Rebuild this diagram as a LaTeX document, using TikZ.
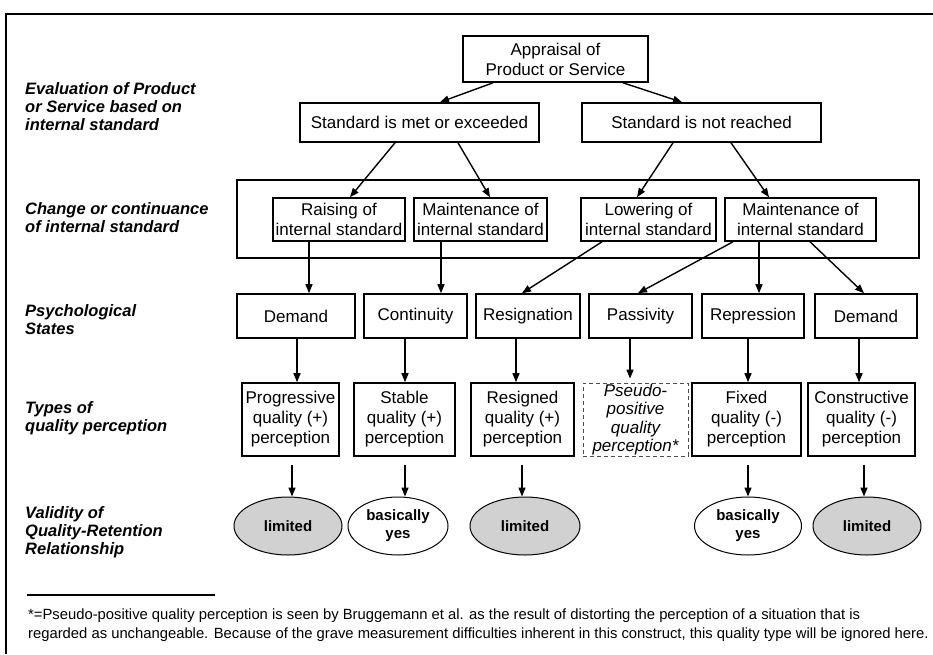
\documentclass[tikz,border=0pt]{standalone}
\usepackage{fontspec}
\setmainfont{Liberation Sans}
\usetikzlibrary{arrows.meta,shapes.geometric}
\newcommand\boxfont{\fontsize{17}{20}\selectfont}
\newcommand\lblfont{\bfseries\itshape\fontsize{16.5}{18}\selectfont}
\newcommand\ovalfont{\bfseries\fontsize{15}{18}\selectfont}
\newcommand\notefont{\fontsize{14.8}{19}\selectfont}
\tikzset{
  box/.style={draw, line width=1.6pt, inner sep=0pt, align=center, font=\boxfont},
  lbl/.style={anchor=west, align=left, inner sep=0pt, font=\lblfont},
  arr/.style={line width=1.4pt, -{Triangle[length=9pt,width=7pt]}},
  oval/.style={ellipse, draw, line width=1pt, inner sep=0pt, align=center, font=\ovalfont,
    minimum height=58pt},
  shaded/.style={oval, fill=black!18},
  plain/.style={oval, fill=white},
}
\begin{document}
\begin{tikzpicture}[x=1pt,y=-1pt]
\useasboundingbox (0,0) rectangle (933,654);
\fill[white] (0,0) rectangle (933,654);
% outer frame (top and left rules)
\draw[line width=2pt] (933,14) -- (6,14) -- (6,654);

% row labels
\node[lbl] (l1) at (25,107) {Evaluation of Product\\or Service based on\\internal standard};
\node[lbl] (l2) at (25,217.5) {Change or continuance\\of internal standard};
\node[lbl] (l3) at (25,320) {Psychological\\States};
\node[lbl] (l4) at (25,418) {Types of\\quality perception};
\node[lbl] (l5) at (25,532) {Validity of\\Quality-Retention\\Relationship};

% appraisal and its outcomes
\node[box, minimum width=185pt, minimum height=46pt] (app) at (555.5,59) {Appraisal of\\Product or Service};
\node[box, minimum width=239pt, minimum height=39pt] (met) at (419.5,122.5) {Standard is met or exceeded};
\node[box, minimum width=239pt, minimum height=39pt] (notr) at (701.5,122.5) {Standard is not reached};

% internal standard group
\node[draw, line width=1.6pt, inner sep=0pt, minimum width=682pt, minimum height=78pt] (grp) at (578,219) {};
\node[box, minimum width=132pt, minimum height=43pt] (rais) at (339,219.5) {Raising of\\internal standard};
\node[box, minimum width=133pt, minimum height=43pt] (mnt1) at (480.5,219.5) {Maintenance of\\internal standard};
\node[box, minimum width=135pt, minimum height=43pt] (lowr) at (648.5,219.5) {Lowering of\\internal standard};
\node[box, minimum width=151pt, minimum height=43pt] (mnt2) at (800.5,219.5) {Maintenance of\\internal standard};

% psychological states
\node[box, minimum width=118pt, minimum height=44pt] (s1) at (296,316) {Demand};
\node[box, minimum width=103pt, minimum height=44pt] (s2) at (415.5,316) {Continuity};
\node[box, minimum width=104pt, minimum height=44pt] (s3) at (528,316) {Resignation};
\node[box, minimum width=103pt, minimum height=44pt] (s4) at (640.5,316) {Passivity};
\node[box, minimum width=102pt, minimum height=44pt] (s5) at (753,316) {Repression};
\node[box, minimum width=102pt, minimum height=44pt] (s6) at (866,316) {Demand};

% types of quality perception
\node[box, minimum width=97pt, minimum height=73pt] (t1) at (290.5,419.5) {Progressive\\quality (+)\\perception};
\node[box, minimum width=101pt, minimum height=73pt] (t2) at (404.5,419.5) {Stable\\quality (+)\\perception};
\node[box, minimum width=103pt, minimum height=73pt] (t3) at (522.5,419.5) {Resigned\\quality (+)\\perception};
\node[box, draw=black!70, line width=0.8pt, dash pattern=on 4pt off 3pt, minimum width=105pt, minimum height=73pt,
  font=\itshape\fontsize{17}{18.5}\selectfont] (t4) at (635.5,419.5) {Pseudo-\\positive\\quality\\perception*};
\node[box, minimum width=109pt, minimum height=73pt] (t5) at (746.5,419.5) {Fixed\\quality (-)\\perception};
\node[box, minimum width=107pt, minimum height=73pt] (t6) at (861.5,419.5) {Constructive\\quality (-)\\perception};

% validity ovals
\node[shaded, minimum width=108pt] (v1) at (288,526) {limited};
\node[plain, minimum width=100pt] (v2) at (398,526) {basically\\yes};
\node[shaded, minimum width=110pt] (v3) at (525,526) {limited};
\node[plain, minimum width=107pt] (v5) at (748,526) {basically\\yes};
\node[shaded, minimum width=108pt] (v6) at (867,526) {limited};

% connectors: appraisal to outcomes
\draw[arr] ([xshift=-62.5pt]app.south) -- ([xshift=20.5pt]met.north);
\draw[arr] ([xshift=67.5pt]app.south) -- ([xshift=-19.5pt]notr.north);
% outcomes to internal standard
\draw[arr] ([xshift=-24.5pt]met.south) -- ([xshift=11pt]rais.north);
\draw[arr] ([xshift=38.5pt]met.south) -- ([xshift=9.5pt]mnt1.north);
\draw[arr] ([xshift=-28.5pt]notr.south) -- ([xshift=-11.5pt]lowr.north);
\draw[arr] ([xshift=29.5pt]notr.south) -- ([xshift=-31.5pt]mnt2.north);
% internal standard to psychological states
\draw[arr] ([xshift=-30pt]rais.south) -- ([xshift=13pt]s1.north);
\draw[arr] ([xshift=-39.5pt]mnt1.south) -- ([xshift=25.5pt]s2.north);
\draw[arr] ([xshift=-46.5pt]lowr.south) -- ([xshift=-6pt]s3.north);
\draw[arr] ([xshift=-67.5pt]mnt2.south) -- ([xshift=-2.5pt]s4.north);
\draw[arr] ([xshift=-41.5pt]mnt2.south) -- ([xshift=6pt]s5.north);
\draw[arr] ([xshift=9.5pt]mnt2.south) -- ([xshift=-2pt]s6.north);
% psychological states to types
\draw[arr] ([xshift=1pt]s1.south) -- ([xshift=6.5pt]t1.north);
\draw[arr] ([xshift=-10.5pt]s2.south) -- ([xshift=0.5pt]t2.north);
\draw[arr] ([xshift=-12pt]s3.south) -- ([xshift=-6.5pt]t3.north);
\draw[arr] ([xshift=-10.5pt]s4.south) -- ([xshift=-5.5pt,yshift=4pt]t4.north);
\draw[arr] ([xshift=-5pt]s5.south) -- ([xshift=1.5pt]t5.north);
\draw[arr] ([xshift=-7pt]s6.south) -- ([xshift=-2.5pt]t6.north);
% types to validity
\draw[arr] ([xshift=1.5pt,yshift=-8pt]t1.south) -- ([xshift=4pt]v1.north);
\draw[arr] ([xshift=0.5pt,yshift=-8pt]t2.south) -- ([xshift=7pt]v2.north);
\draw[arr] ([xshift=-0.5pt,yshift=-8pt]t3.south) -- ([xshift=-3pt]v3.north);
\draw[arr] ([xshift=1.5pt,yshift=-8pt]t5.south) -- (v5.north);
\draw[arr] ([xshift=2.5pt,yshift=-8pt]t6.south) -- ([xshift=-3pt]v6.north);

% footnote
\coordinate (r0) at (27,595);
\coordinate (r1) at (215,595);
\draw[line width=1.2pt] (r0) -- (r1);
\node[anchor=base west, inner sep=0pt, align=left, font=\notefont] (note) at (28,638)
  {*=Pseudo-positive quality perception is seen by Bruggemann et al. as the result of distorting the perception of a situation that is\\
   regarded as unchangeable. Because of the grave measurement difficulties inherent in this construct, this quality type will be ignored here.};
\end{tikzpicture}
\end{document}
